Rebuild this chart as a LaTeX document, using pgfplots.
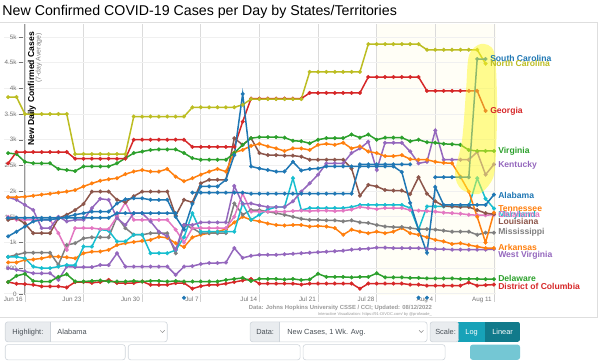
\documentclass[border=0pt]{standalone}
\usepackage{pgfplots}
\pgfplotsset{compat=1.18}
\usepackage{pgfplotstable}
\usepackage{fontspec}
\setmainfont{Liberation Sans}
\definecolor{cAL}{HTML}{1F77B4}
\definecolor{cOR}{HTML}{FF7F0E}
\definecolor{cGR}{HTML}{2CA02C}
\definecolor{cRD}{HTML}{D62728}
\definecolor{cPU}{HTML}{9467BD}
\definecolor{cBR}{HTML}{8C564B}
\definecolor{cPK}{HTML}{E377C2}
\definecolor{cGY}{HTML}{7F7F7F}
\definecolor{cOL}{HTML}{BCBD22}
\definecolor{cCY}{HTML}{17BECF}
\definecolor{uigray}{HTML}{E9ECEF}
\definecolor{uiborder}{HTML}{CED4DA}
\definecolor{uitext}{HTML}{495057}
\definecolor{tealA}{HTML}{17A2B8}
\definecolor{tealB}{HTML}{117A8B}
\newcommand{\yd}{\hspace{2.5bp}\rule[1.8bp]{4bp}{0.6bp}}

\pgfplotstableread{
d AL SC NC GA VA TN AR KY LA OK MD MS DE DC WV
-2 1120 1480 3830 2540 2740 1880 610 1880 1440 1500 720 720 230 230 500
-1 1210 1480 3830 2760 2720 1880 610 1830 1470 1440 720 760 350 195 470
0 1310 1480 3500 2760 2570 1890 660 1730 1370 1440 690 800 390 190 435
1 1410 1480 3500 2760 2540 1910 670 1630 1180 1440 530 800 250 175 400
2 1440 1480 3500 2760 2540 1930 690 1280 1180 1440 500 800 240 145 400
3 1440 1480 3500 2760 2540 1950 725 1280 1180 1440 500 800 240 145 400
4 1470 1480 3500 2760 2430 1970 725 1500 1470 1180 530 565 330 145 270
5 1500 1480 3500 2760 2410 1990 710 1410 1540 855 560 950 380 125 530
6 1540 1480 2720 2630 2390 2020 690 1440 1630 1280 560 985 240 230 520
7 1570 1480 2720 2630 2480 2090 790 1440 1750 1280 920 1080 240 230 520
8 1600 1480 2720 2630 2480 2150 820 1670 1990 1280 920 1100 250 215 520
9 1600 1480 2720 2630 2480 2200 825 1850 1990 1260 1250 1100 260 230 560
10 1600 1480 2720 2630 2480 2230 855 1830 1990 1260 1230 1100 240 270 560
11 1760 1570 2720 2630 2540 2250 950 1470 1830 1500 1020 1500 240 210 790
12 1840 1570 2720 2630 2640 2330 985 1340 1780 1780 1020 1280 240 210 530
13 1860 1570 3450 3000 2740 2380 1010 1570 1900 1440 1150 1150 250 210 530
14 1860 1570 3450 3000 2770 2410 1030 1570 1990 1440 1150 1150 240 240 530
15 1830 1570 3450 3000 2800 2380 1050 1410 1990 1440 790 1180 250 175 530
16 1830 1570 3450 3000 2810 2380 1110 1210 1990 1440 790 1180 250 175 530
17 1830 1570 3450 3000 2810 2430 1090 1120 1990 1440 790 1180 240 175 530
18 1500 1570 3450 3000 2810 2280 985 860 1520 1250 850 790 250 210 370
19 1250 nan 3450 3000 2740 2190 910 1340 1830 1000 1100 1340 240 210 530
20 1750 1970 3630 2860 2640 2250 1100 1340 1780 1280 1570 1280 240 100 540
21 2090 1970 3630 2860 2610 2320 1150 1390 2150 1280 1210 1180 240 150 580
22 2090 1970 3630 2860 2610 2380 1180 1390 2220 1280 1210 1180 240 175 600
23 2090 1970 3630 2860 2610 2430 1210 1390 2220 1280 1210 1180 240 175 600
24 2220 1970 3630 2860 2610 2380 1260 1390 2220 1280 1210 1180 270 200 610
25 2700 1970 3630 2860 2740 2750 1390 2100 3030 1500 1210 1760 290 230 890
26 3890 1970 3680 3350 2900 2800 1500 1750 2900 1950 1760 1540 310 260 700
27 2480 1950 3790 3800 3030 2880 1440 1760 3030 1600 1440 1630 250 290 740
28 2440 1950 3790 3800 3050 2920 1410 1720 2740 1600 1540 1630 290 200 760
29 2410 1950 3790 3800 3050 2870 1370 1690 2700 1600 1640 1600 290 200 760
30 2380 1950 3790 3800 3050 2830 1340 1690 2700 1600 1690 1570 290 200 760
31 2380 1950 3790 3800 3040 2780 1330 1690 2690 1600 1690 1540 280 200 770
32 2570 1950 3790 3800 2980 2830 1340 1800 2690 1610 2250 1500 290 200 780
33 2400 1950 3790 3800 2970 2830 1340 1990 2670 1620 1630 1460 270 180 790
34 2430 1950 4320 3910 2930 2800 1310 2150 2610 1610 1670 1440 280 200 800
35 2440 1950 4320 3910 3000 2900 1320 2320 2610 1620 1670 1440 390 200 810
36 2480 1950 4320 3910 3030 2920 1310 2540 2610 1620 1670 1430 330 200 820
37 2480 1950 4320 3910 3030 2900 1280 2540 2610 1610 1670 1430 330 200 830
38 2480 1950 4320 3910 3030 2940 1150 2540 2610 1620 1670 1410 330 200 840
39 2480 1950 4320 3910 3100 2830 1250 2740 2440 1640 1690 1430 320 200 860
40 2480 2520 4320 3910 3040 2870 1210 2830 1910 1690 1730 1390 330 100 870
41 2480 2520 4860 4220 3100 2770 1180 2960 2120 1670 1730 1380 330 200 880
42 2480 2520 4860 4220 3000 2740 1210 2410 2090 1650 1730 1340 400 200 900
43 2480 2520 4860 4220 3040 2680 1180 2940 2020 1670 1730 1310 320 200 900
44 2480 2520 4860 4220 3040 2680 1210 2940 2010 1670 1730 1300 320 200 890
45 2370 2520 4860 4220 3040 2700 1280 2940 2010 1670 1730 1300 320 200 890
46 1770 2520 4860 4220 2970 2620 1180 2770 1940 1630 1670 1280 310 180 890
47 1250 nan 4860 4220 3000 2610 1150 2540 2270 1620 1250 1260 310 180 890
48 800 nan 4750 3950 2950 2610 1100 2570 1950 1610 1700 1260 300 160 880
49 2080 2270 4750 3950 2940 2570 1050 3180 1800 1600 1700 1250 300 160 870
50 1730 2270 4750 3950 2920 2550 1020 2610 1710 1580 1700 1230 300 160 870
51 1730 2270 4750 3950 2910 2540 970 2610 1700 1570 1700 1210 300 160 860
52 1730 2270 4750 3950 2900 2280 985 2610 1690 1560 1700 1210 290 160 860
53 1730 2270 4750 3950 2800 1990 950 2610 1690 1540 1700 1210 290 220 860
54 1730 4570 4750 3950 2780 1500 920 2760 1630 1530 2250 1150 290 160 860
55 1730 4570 4480 3560 2780 1000 890 2320 1570 1530 1850 1190 285 170 860
56 1930 nan nan nan 2780 1580 890 2520 1550 1540 1660 1190 285 180 870
}\data

\begin{document}
\begin{tikzpicture}
\begin{axis}[
  at={(3.65bp,51bp)}, anchor=south west,
  scale only axis, width=491.9bp, height=270.9bp,
  xmin=-2.5, xmax=56.2, ymin=-20, ymax=5250,
  set layers, clip=false, unbounded coords=jump,
  axis line style={draw=none}, major tick length=0pt,
  xtick={0,7,14,21,28,35,42,49,56},
  xticklabels={Jun 16,Jun 23,Jun 30,Jul 7,Jul 14,Jul 21,Jul 28,Aug 4,Aug 11},
  ytick={0,500,1000,1500,2000,2500,3000,3500,4000,4500,5000},
  yticklabels={0\yd,500\yd,1k\yd,1.5k\yd,2k\yd,2.5k\yd,3k\yd,3.5k\yd,4k\yd,4.5k\yd,5k\yd},
  xmajorgrids, ymajorgrids,
  x grid style={black!14, line width=0.7bp},
  y grid style={black!6, line width=0.7bp},
  xticklabel style={font={\fontsize{6.3bp}{7bp}\selectfont}, text=black!55, anchor=north east, inner sep=0pt, xshift=-2bp, yshift=-2.2bp},
  yticklabel style={font={\fontsize{6.3bp}{7bp}\selectfont}, text=black!55, anchor=east, inner sep=0pt, xshift=19.35bp},
  every axis plot/.append style={line width=1.5bp, mark=*, mark size=1.9bp, mark options={line width=0.3bp}},
]
\begin{pgfonlayer}{axis background}
\fill[color={rgb,255:red,255;green,254;blue,246}] (axis cs:42,-20) rectangle (axis cs:56.2,5250);
\end{pgfonlayer}
\begin{pgfonlayer}{axis grid}
\draw[black!40, line width=0.8bp] (axis cs:0,5250) -- (axis cs:0,-20);
\end{pgfonlayer}
\pgfplotsinvokeforeach{0,7,14,21,28,35,42,49,56}{\draw[black!18, line width=0.7bp] (axis cs:#1,-20) -- ++(0pt,-7bp);}
\addplot[cPU] table[x=d,y=WV] {\data};
\addplot[cRD] table[x=d,y=DC] {\data};
\addplot[cGR] table[x=d,y=DE] {\data};
\addplot[cOR] table[x=d,y=AR] {\data};
\addplot[cGY] table[x=d,y=MS] {\data};
\addplot[cCY] table[x=d,y=MD] {\data};
\addplot[cPK] table[x=d,y=OK] {\data};
\addplot[cBR] table[x=d,y=LA] {\data};
\addplot[cPU] table[x=d,y=KY] {\data};
\addplot[cOR] table[x=d,y=TN] {\data};
\addplot[cGR] table[x=d,y=VA] {\data};
\addplot[cRD] table[x=d,y=GA] {\data};
\addplot[cOL] table[x=d,y=NC] {\data};
\addplot[cAL] table[x=d,y=SC] {\data};
\addplot[cAL, only marks] coordinates {(19,-75) (47,-75) (48,-75)};
\addplot[cAL] table[x=d,y=AL] {\data};
\end{axis}

\begin{scope}[x=1bp, y=-1bp, shift={(0bp,346bp)}]
\draw[black!13, line width=0.6bp] (0,22.5) -- (597.5,22.5) -- (597.5,317.5) -- (0,317.5);
\node[anchor=base west, inner sep=0pt, font={\fontsize{14.2bp}{16bp}\selectfont}] at (2,16) {New Confirmed COVID-19 Cases per Day by States/Territories};

% highlight
\fill[color={rgb,255:red,255;green,250;blue,40}, opacity=0.5] plot[smooth cycle] coordinates {(481,44) (494,52) (497,100) (496,150) (493,178) (479,194) (461,189) (455,173) (462,140) (466,90) (469,55)};

% axis title
\node[rotate=90, anchor=east, inner sep=0pt, font={\fontsize{8.6bp}{9bp}\selectfont\bfseries}] at (31.5,32) {New Daily Confirmed Cases};
\node[rotate=90, anchor=east, inner sep=0pt, text=black!50, font={\fontsize{6.9bp}{8bp}\selectfont}] at (38.5,33) {(7-day Average)};

% series labels
\tikzset{lab/.style={anchor=mid west, inner sep=0pt, font={\fontsize{8.6bp}{9bp}\selectfont\bfseries}}}
\node[lab, text=cAL] at (490,58.5) {South Carolina};
\node[lab, text=cOL] at (490,64) {North Carolina};
\node[lab, text=cRD] at (490,110.5) {Georgia};
\node[lab, text=cGR] at (498,151) {Virginia};
\node[lab, text=cPU] at (498,164.5) {Kentucky};
\node[lab, text=cAL] at (498,196) {Alabama};
\node[lab, text=cOR] at (498,208.5) {Tennessee};
\node[lab, text=cCY] at (498,214.5) {Maryland};
\node[lab, text=cPK] at (498,215) {Oklahoma};
\node[lab, text=cBR] at (498,222) {Louisiana};
\node[lab, text=cGY] at (498,231.5) {Mississippi};
\node[lab, text=cOR] at (498,248) {Arkansas};
\node[lab, text=cPU] at (498,254.5) {West Virginia};
\node[lab, text=cGR] at (498,279) {Delaware};
\node[lab, text=cRD] at (498,287.5) {District of Columbia};

% source
\node[anchor=east, inner sep=0pt, text=black!40, font={\fontsize{5.9bp}{7bp}\selectfont\bfseries}] at (432,308.5) {Data: Johns Hopkins University CSSE / CCI; Updated: 08/12/2022};
\node[anchor=east, inner sep=0pt, text=black!40, font={\fontsize{4bp}{5bp}\selectfont}] at (432,314.3) {Interactive Visualization: https://91-DIVOC.com/ by @profwade\_};

% UI controls
\tikzset{ui/.style={anchor=mid west, inner sep=0pt, text=uitext, font={\fontsize{7.4bp}{8bp}\selectfont}}}
\begin{scope}
\clip[rounded corners=2.5bp] (5,322) rectangle (167,342);
\fill[white] (5,322) rectangle (167,342);
\fill[uigray] (5,322) rectangle (50,342);
\end{scope}
\draw[uiborder, line width=0.6bp, rounded corners=2.5bp] (5,322) rectangle (167,342);
\draw[uiborder, line width=0.6bp] (50,322) -- (50,342);
\node[ui] at (12,332) {Highlight:};
\node[ui] at (57,332) {Alabama};
\draw[black!45, line width=0.5bp] (160,330.5) -- (162.2,332.7) -- (164.4,330.5);

\begin{scope}
\clip[rounded corners=2.5bp] (250,322) rectangle (427,342);
\fill[white] (250,322) rectangle (427,342);
\fill[uigray] (250,322) rectangle (279,342);
\end{scope}
\draw[uiborder, line width=0.6bp, rounded corners=2.5bp] (250,322) rectangle (427,342);
\draw[uiborder, line width=0.6bp] (279,322) -- (279,342);
\node[ui] at (256,332) {Data:};
\node[ui] at (287,332) {New Cases, 1 Wk. Avg.};
\draw[black!45, line width=0.5bp] (419,330.5) -- (421.2,332.7) -- (423.4,330.5);

\begin{scope}
\clip[rounded corners=2.5bp] (430,322) rectangle (520,342);
\fill[uigray] (430,322) rectangle (458,342);
\fill[tealA] (458,322) rectangle (485,342);
\fill[tealB] (485,322) rectangle (520,342);
\end{scope}
\draw[uiborder, line width=0.6bp, rounded corners=2.5bp] (430,322) rectangle (458.5,342);
\node[ui] at (435,332) {Scale:};
\node[anchor=mid, inner sep=0pt, text=white, font={\fontsize{7.4bp}{8bp}\selectfont}] at (471.5,332) {Log};
\node[anchor=mid, inner sep=0pt, text=white, font={\fontsize{7.4bp}{8bp}\selectfont}] at (502.5,332) {Linear};

\draw[uiborder, line width=0.6bp, rounded corners=2.5bp] (5,344.8) rectangle (125,360);
\draw[uiborder, line width=0.6bp, rounded corners=2.5bp] (128,344.8) rectangle (300,360);
\draw[uiborder, line width=0.6bp, rounded corners=2.5bp] (303,344.8) rectangle (445,360);
\fill[tealA!60, rounded corners=2.5bp] (470,344.8) rectangle (520,360);
\path[use as bounding box] (0,0) rectangle (600,346);
\end{scope}
\end{tikzpicture}
\end{document}
